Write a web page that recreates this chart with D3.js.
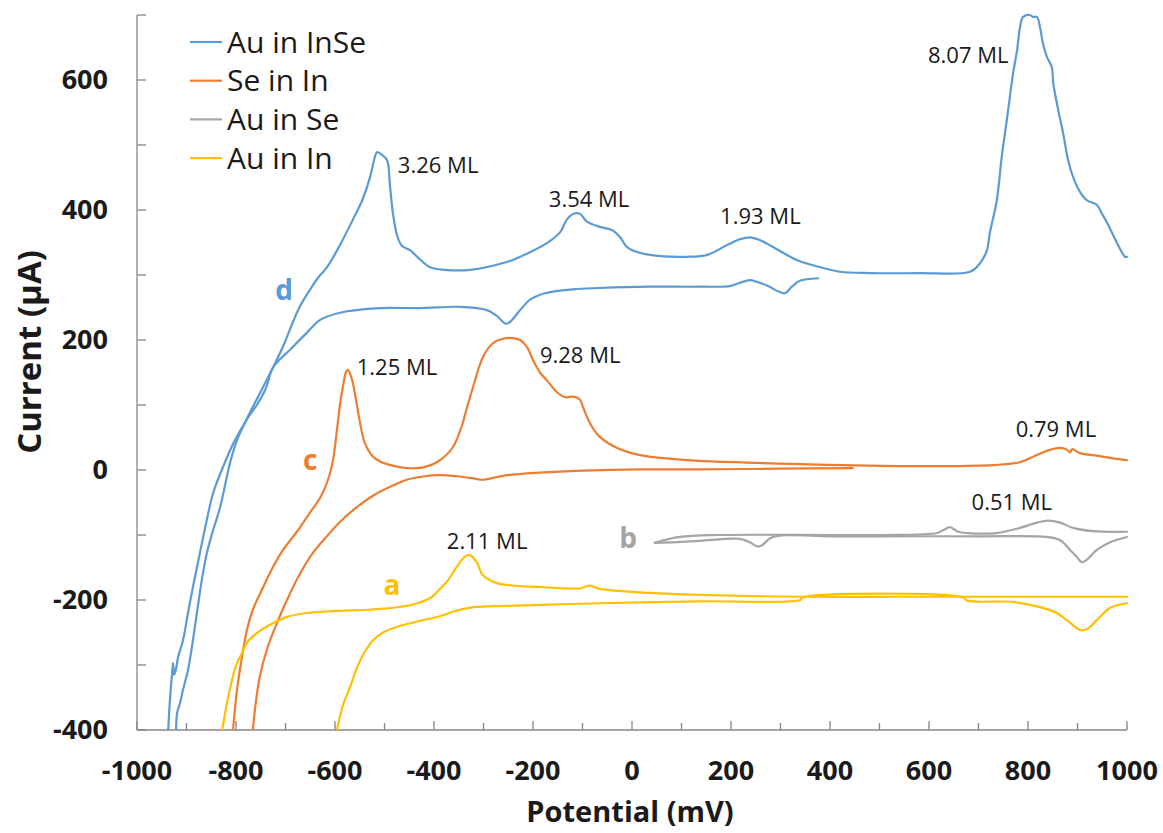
<!DOCTYPE html>
<html>
<head>
<meta charset="utf-8">
<script src="https://cdn.jsdelivr.net/npm/d3@7"></script>
<style>
  html, body { margin: 0; padding: 0; background: #fff; }
  svg { display: block; font-family: "Open Sans", "Noto Sans", sans-serif; }
</style>
</head>
<body>
<svg id="chart" width="1163" height="833"></svg>
<script>
// Cyclic voltammograms: [potential (mV), current (µA)]
// Each voltammogram is split into its cathodic (negative-going) and anodic (positive-going) sweep.

const auInSeCathodic = [
  [376, 295], [339, 291], [323, 282], [309, 272], [295, 275], [275, 283], [254, 289], [238, 292],
  [218, 288], [198, 283], [137, 282], [36, 282], [-65, 280], [-119, 278], [-176, 272], [-206, 262],
  [-226, 246], [-253, 225], [-273, 237], [-293, 246], [-347, 251], [-428, 249], [-509, 249],
  [-590, 242], [-630, 231], [-657, 211], [-691, 185], [-725, 158], [-740, 125], [-758, 100],
  [-778, 78], [-806, 40], [-826, 5], [-846, -35], [-859, -77], [-873, -128], [-887, -180],
  [-897, -220], [-907, -262], [-917, -288], [-921, -305], [-925, -315], [-927, -297],
  [-929, -312], [-933, -349], [-937, -400]
];
const auInSeAnodic = [
  [-921, -400], [-919, -374], [-913, -358], [-907, -338], [-897, -308], [-889, -272], [-879, -220],
  [-869, -169], [-859, -128], [-848, -97], [-832, -57], [-812, 11], [-798, 46], [-772, 88],
  [-745, 128], [-725, 158], [-705, 190], [-688, 222], [-672, 250], [-655, 272], [-635, 295],
  [-616, 312], [-590, 346],
  [-564, 385], [-545, 415], [-529, 451], [-521, 477], [-515, 489], [-507, 486], [-495, 477],
  [-489, 438], [-483, 395], [-475, 362], [-465, 345], [-448, 338], [-434, 328], [-408, 312],
  [-378, 308], [-327, 308], [-253, 320], [-226, 328], [-172, 349], [-145, 366], [-131, 386],
  [-115, 395], [-105, 394], [-91, 382], [-65, 374], [-40, 369], [-24, 358], [-10, 343],
  [16, 334], [57, 329], [111, 328], [152, 331], [192, 346], [218, 355], [238, 358], [258, 354],
  [285, 343], [333, 323], [380, 312], [420, 305], [481, 303], [582, 303], [683, 305],
  [703, 318], [717, 338], [723, 365], [737, 415], [747, 482], [758, 543], [770, 611],
  [778, 646], [784, 682], [790, 697], [804, 700], [810, 697], [818, 697], [824, 682],
  [830, 657], [838, 636], [848, 620], [851, 595], [861, 554], [871, 518], [881, 477],
  [891, 451], [905, 428], [919, 415], [939, 408], [949, 395], [960, 380], [980, 349],
  [996, 328], [1000, 328]
];

const seInInCathodic = [
  [446, 3], [300, 2], [137, 1], [16, 1], [-100, -1], [-186, -4], [-253, -8], [-280, -12],
  [-301, -15], [-320, -13], [-350, -10], [-388, -8], [-422, -10], [-455, -15], [-483, -24],
  [-520, -38], [-556, -57], [-590, -80], [-620, -105], [-645, -128], [-671, -160], [-697, -200],
  [-717, -235], [-737, -275], [-752, -318], [-760, -358], [-766, -400]
];
const seInInAnodic = [
  [-806, -400], [-798, -338], [-788, -288], [-778, -246], [-766, -215], [-745, -180],
  [-725, -149], [-705, -123], [-677, -95], [-650, -65], [-628, -40], [-612, -10], [-604, 15],
  [-596, 62], [-590, 100], [-584, 128], [-578, 150], [-574, 154], [-566, 140], [-558, 110],
  [-550, 75], [-540, 42], [-525, 22], [-509, 13], [-480, 6], [-455, 3], [-422, 4], [-388, 15],
  [-362, 35], [-345, 65], [-333, 97], [-321, 128], [-301, 174], [-281, 195], [-261, 202],
  [-240, 203], [-226, 200], [-212, 189], [-200, 169], [-186, 150], [-172, 138], [-152, 120],
  [-135, 112], [-118, 113], [-105, 108], [-99, 97], [-85, 72], [-65, 51], [-30, 34], [16, 23],
  [80, 17], [137, 14], [250, 11], [339, 9], [450, 7], [541, 6], [636, 6], [737, 8], [784, 12],
  [818, 23], [844, 31], [865, 34], [879, 31], [885, 27], [889, 32], [905, 26], [939, 22],
  [972, 18], [1000, 15]
];

const auInSeCathodicB = [
  [1000, -103], [966, -111], [939, -123], [919, -138], [909, -142], [899, -134], [885, -123],
  [865, -108], [838, -103], [700, -102], [501, -102], [400, -102], [299, -101], [279, -105],
  [264, -115], [254, -118], [238, -111], [218, -106], [137, -109], [90, -111], [46, -112]
];
const auInSeAnodicB = [
  [46, -112], [97, -103], [178, -100], [400, -100], [501, -100], [616, -97], [630, -92],
  [642, -88], [659, -95], [677, -97], [737, -97], [784, -89], [818, -81], [840, -78],
  [865, -81], [891, -89], [931, -94], [1000, -95]
];

const auInInCathodic = [
  [1000, -205], [966, -212], [939, -231], [919, -245], [905, -246], [885, -235], [858, -220],
  [824, -211], [770, -203], [677, -201], [669, -196], [345, -196], [340, -200], [137, -202],
  [-65, -205], [-166, -207], [-253, -209], [-321, -211], [-362, -218], [-388, -225],
  [-428, -232], [-469, -240], [-503, -250], [-523, -262], [-540, -280], [-556, -305],
  [-570, -335], [-584, -362], [-596, -400]
];
const auInInAnodic = [
  [-828, -400], [-818, -358], [-808, -323], [-798, -297], [-788, -282], [-778, -266],
  [-758, -251], [-731, -238], [-697, -226], [-657, -220], [-604, -217], [-535, -215],
  [-495, -213], [-442, -207], [-408, -197], [-388, -183], [-374, -172], [-354, -149],
  [-337, -133], [-327, -131], [-313, -143], [-301, -162], [-273, -174], [-220, -179],
  [-186, -180], [-105, -182], [-85, -178], [-65, -183], [36, -189], [137, -192], [339, -195],
  [541, -195], [743, -195], [1000, -195]
];

const seriesNames = ["Au in InSe", "Se in In", "Au in Se", "Au in In"];
const seriesColors = ["#5B9BD5", "#ED7D31", "#A5A5A5", "#FFC000"];
const seriesSweeps = [
  [auInSeCathodic, auInSeAnodic],
  [seInInCathodic, seInInAnodic],
  [auInSeCathodicB, auInSeAnodicB],
  [auInInCathodic, auInInAnodic]
];

// Curve letters and coverage labels, anchored in data units
const curveLetters = [
  { text: "d", series: 0, x: -703, y: 277 },
  { text: "c", series: 1, x: -650, y: 15 },
  { text: "b", series: 2, x: -8, y: -105 },
  { text: "a", series: 3, x: -485, y: -177 }
];
const peakLabels = [
  { text: "3.26 ML", x: -473, y: 469 },
  { text: "3.54 ML", x: -168, y: 417 },
  { text: "1.93 ML", x: 178, y: 391 },
  { text: "8.07 ML", x: 598, y: 638 },
  { text: "1.25 ML", x: -556, y: 158 },
  { text: "9.28 ML", x: -186, y: 177 },
  { text: "0.79 ML", x: 775, y: 62 },
  { text: "0.51 ML", x: 686, y: -50 },
  { text: "2.11 ML", x: -374, y: -110 }
];

const xTickLabels = [-1000, -800, -600, -400, -200, 0, 200, 400, 600, 800, 1000];
const yTickLabels = [-400, -200, 0, 200, 400, 600];
const xDomain = [-1000, 1000];
const yDomain = [-400, 700];

const svg = d3.select("#chart");
const plotLeft = 137, plotRight = 1127, plotTop = 15, plotBottom = 730;

const x = d3.scaleLinear().domain(xDomain).range([plotLeft, plotRight]);
const y = d3.scaleLinear().domain(yDomain).range([plotBottom, plotTop]);

svg.append("defs").append("clipPath").attr("id", "plot-clip")
  .append("rect")
  .attr("x", plotLeft).attr("y", plotTop - 2)
  .attr("width", plotRight - plotLeft + 2).attr("height", plotBottom - plotTop + 2);

const axisColor = "#868686";

// x axis: line, inward ticks every 100 mV, labels every 200 mV
const xAxis = svg.append("g");
xAxis.append("line")
  .attr("x1", plotLeft).attr("x2", plotRight).attr("y1", plotBottom).attr("y2", plotBottom)
  .attr("stroke", axisColor).attr("stroke-width", 1.3);
xAxis.selectAll("line.tick")
  .data(d3.range(xDomain[0], xDomain[1] + 1, 100))
  .join("line").attr("class", "tick")
  .attr("x1", d => x(d)).attr("x2", d => x(d))
  .attr("y1", plotBottom).attr("y2", d => plotBottom - (d % 200 === 0 ? 9 : 7))
  .attr("stroke", axisColor).attr("stroke-width", 1.3);
xAxis.selectAll("text")
  .data(xTickLabels)
  .join("text")
  .attr("x", d => x(d)).attr("y", 780)
  .attr("text-anchor", "middle")
  .attr("font-size", 27).attr("font-weight", 700).attr("fill", "#1a1a1a")
  .text(d => d);

// y axis
const yAxis = svg.append("g");
yAxis.append("line")
  .attr("x1", plotLeft).attr("x2", plotLeft).attr("y1", plotTop).attr("y2", plotBottom)
  .attr("stroke", axisColor).attr("stroke-width", 1.3);
yAxis.selectAll("line.tick")
  .data(d3.range(yDomain[0], yDomain[1] + 1, 100))
  .join("line").attr("class", "tick")
  .attr("x1", plotLeft).attr("x2", plotLeft + 9)
  .attr("y1", d => y(d)).attr("y2", d => y(d))
  .attr("stroke", axisColor).attr("stroke-width", 1.3);
yAxis.selectAll("text")
  .data(yTickLabels)
  .join("text")
  .attr("x", 108).attr("y", d => y(d))
  .attr("dy", "0.35em")
  .attr("text-anchor", "end")
  .attr("font-size", 27).attr("font-weight", 700).attr("fill", "#1a1a1a")
  .text(d => d);

// axis titles
svg.append("text")
  .attr("x", 630).attr("y", 822)
  .attr("text-anchor", "middle")
  .attr("font-size", 29).attr("font-weight", 700).attr("fill", "#1a1a1a")
  .text("Potential (mV)");
svg.append("text")
  .attr("transform", "translate(41,352) rotate(-90)")
  .attr("text-anchor", "middle")
  .attr("font-size", 33).attr("font-weight", 700).attr("fill", "#1a1a1a")
  .text("Current (μA)");

// voltammogram traces
const line = d3.line()
  .x(d => x(d[0]))
  .y(d => y(d[1]))
  .curve(d3.curveCatmullRom.alpha(0.5));

const traces = svg.append("g").attr("clip-path", "url(#plot-clip)");
seriesSweeps.forEach((sweeps, i) => {
  sweeps.forEach(sweep => {
    traces.append("path")
      .datum(sweep)
      .attr("d", line)
      .attr("fill", "none")
      .attr("stroke", seriesColors[i])
      .attr("stroke-width", 2.2)
      .attr("stroke-linejoin", "round")
      .attr("stroke-linecap", "round");
  });
});

// curve letters
svg.selectAll("text.letter")
  .data(curveLetters)
  .join("text").attr("class", "letter")
  .attr("x", d => x(d.x)).attr("y", d => y(d.y))
  .attr("dy", "0.35em")
  .attr("text-anchor", "middle")
  .attr("font-size", 28).attr("font-weight", 700)
  .attr("fill", d => seriesColors[d.series])
  .text(d => d.text);

// coverage labels
svg.selectAll("text.peak")
  .data(peakLabels)
  .join("text").attr("class", "peak")
  .attr("x", d => x(d.x)).attr("y", d => y(d.y))
  .attr("dy", "0.35em")
  .attr("font-size", 22).attr("fill", "#1a1a1a")
  .text(d => d.text);

// legend
const legend = svg.append("g");
seriesNames.forEach((name, i) => {
  const ly = 42 + i * 38.7;
  legend.append("line")
    .attr("x1", 190).attr("x2", 222).attr("y1", ly).attr("y2", ly)
    .attr("stroke", seriesColors[i]).attr("stroke-width", 2.2);
  legend.append("text")
    .attr("x", 227).attr("y", ly).attr("dy", "0.35em")
    .attr("font-size", 30).attr("fill", "#1a1a1a")
    .text(name);
});
</script>
</body>
</html>
